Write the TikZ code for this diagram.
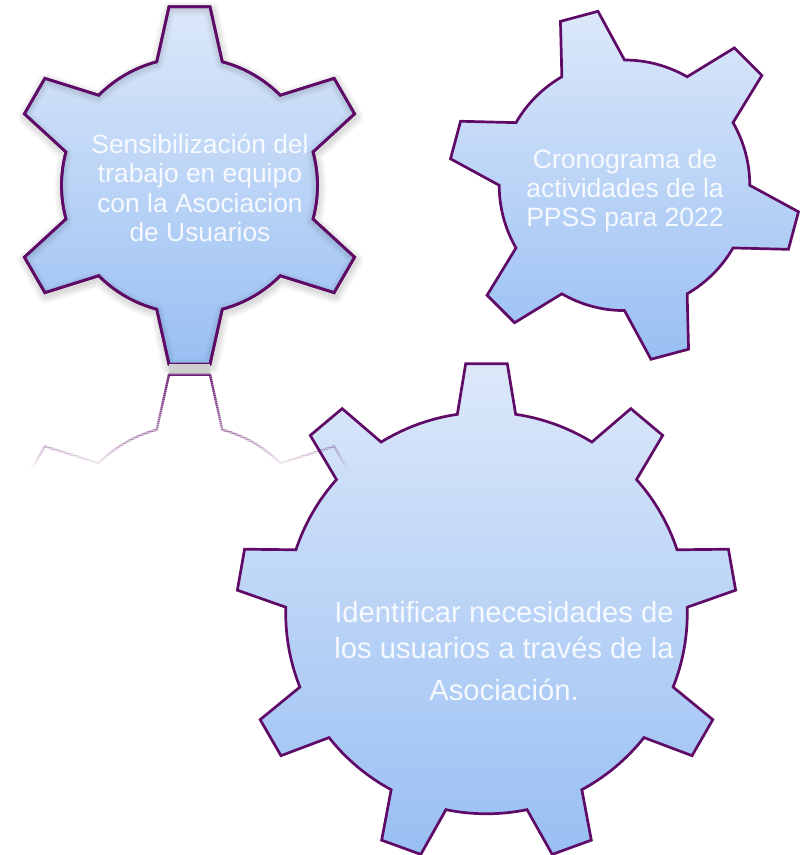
\documentclass[tikz,border=0pt]{standalone}
\usepackage{fontspec}
\setmainfont{Liberation Sans}
\definecolor{gearline}{RGB}{96,10,104}
\definecolor{geartop}{RGB}{220,232,249}
\definecolor{gearbot}{RGB}{153,191,243}
\newcommand{\gearpath}[6]{%
  ({#2+#6}:#5pt)
  \foreach \i [evaluate=\i as \p using {#2-\i*360/#1}] in {1,...,#1} {
    -- ({\p+360/#1+#4}:#3pt) -- ({\p+360/#1-#4}:#3pt) -- ({\p+360/#1-#6}:#5pt)
    arc[start angle={\p+360/#1-#6}, end angle={\p+#6}, radius=#5pt]
  } -- cycle}
\newcommand{\gearone}{\gearpath{6}{90}{180}{6.54}{128}{14.84}}
\newcommand{\geartwo}{\gearpath{6}{105}{176}{6.34}{125.3}{15}}
\newcommand{\gearthree}{\gearpath{9}{90}{250.2}{4.77}{200.8}{8.35}}
\tikzset{
  gearstyle/.style={draw=gearline, line width=2.7pt, line join=miter, top color=geartop, bottom color=gearbot},
  softshade/.style={draw=black, draw opacity=.028, line join=round},
  geartext/.style={text=white, text opacity=.88, align=center, inner sep=0pt, font=\fontsize{#1}{29.3}\selectfont},
  reflectline/.style={draw=gearline, line width=2.3pt, line join=miter}
}
\begin{document}
\begin{tikzpicture}[x=1pt,y=1pt]
\useasboundingbox (0,0) rectangle (805,855);
\fill[white] (0,0) rectangle (805,855);
% gear 1 soft shadow
\begin{scope}[shift={(190.5,666.5)}]
  \foreach \w in {16,13,10,7,4} { \draw[softshade, line width=\w pt] \gearone; }
\end{scope}
\begin{scope}[shift={(189.5,669.5)}]
  \path[gearstyle] \gearone;
  \begin{scope}
    \clip \gearone;
    \begin{scope}[shift={(0,-2)}]
      \foreach \w in {14,10,7,4} { \draw[softshade, draw opacity=.028, line width=\w pt] \gearone; }
    \end{scope}
  \end{scope}
  \draw[draw=gearline, line width=2.7pt] \gearone;
\end{scope}
% gear 2
\begin{scope}[shift={(624.5,669.7)}]
  \path[gearstyle] \geartwo;
\end{scope}
% gear 3
\begin{scope}[shift={(486.5,242)}]
  \path[gearstyle] \gearthree;
\end{scope}
% reflection band and fading reflection
\fill[black!19] (169,491) rectangle (210,480.5);
\foreach \k in {0,...,47} {
  \pgfmathsetmacro{\op}{0.72*(1-\k/48)}
  \begin{scope}
    \clip (0,{481-2*\k}) rectangle (805,{479-2*\k});
    \begin{scope}[shift={(189.5,301.5)}]
      \draw[reflectline, draw opacity=\op] \gearone;
    \end{scope}
  \end{scope}
}
% texts
\node[geartext=26.4] (t1) at (200,667) {Sensibilización del\\trabajo en equipo\\con la Asociacion\\de Usuarios};
\node[geartext=26.5] (t2) at (625,664.5) {Cronograma de\\actividades de la\\PPSS para 2022};
\node[geartext=29.2] (t3) at (504,204) {Identificar necesidades de\\[7pt]los usuarios a través de la\\[12pt]Asociación.};
\end{tikzpicture}
\end{document}
